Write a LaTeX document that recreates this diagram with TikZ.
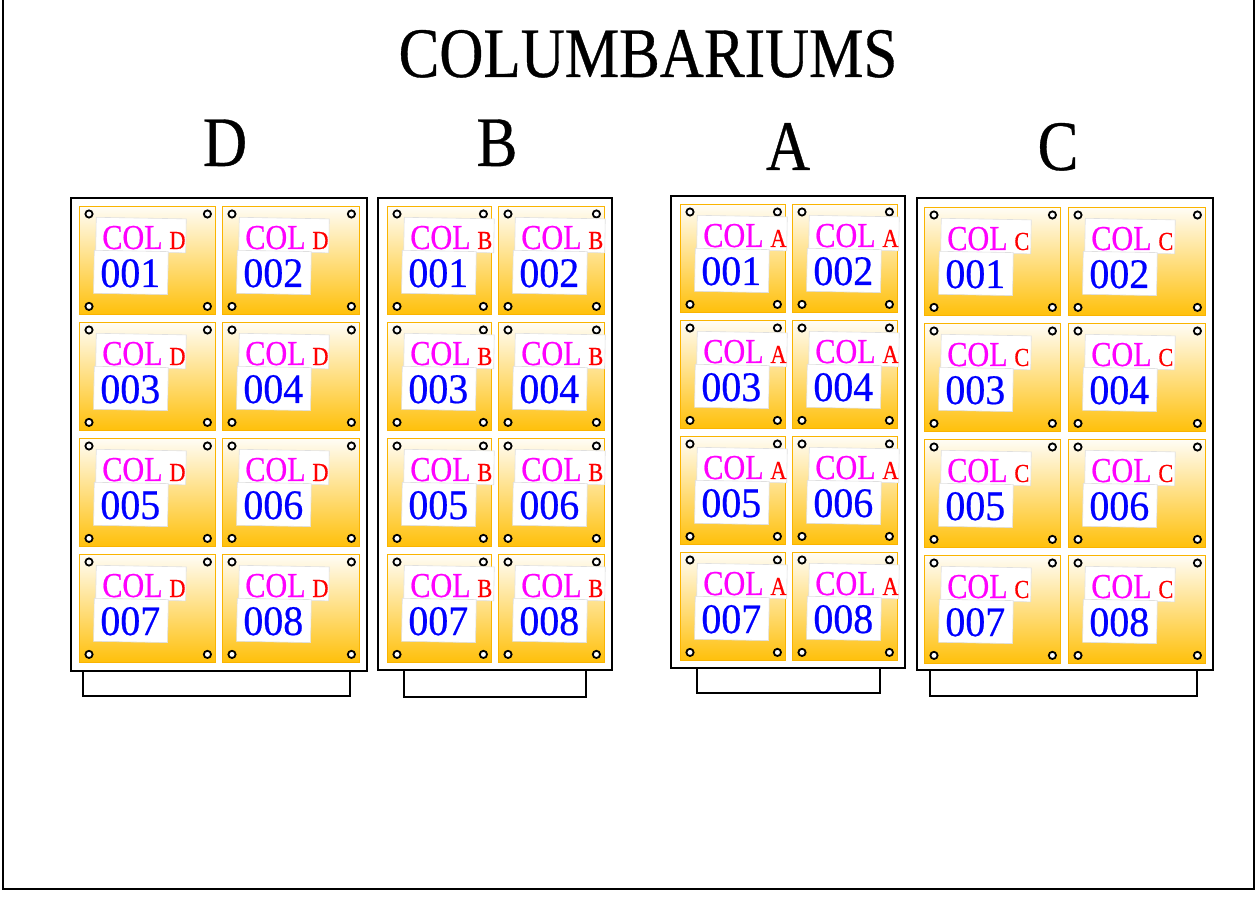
\documentclass[tikz,border=0pt]{standalone}
\usepackage{fontspec}
\usetikzlibrary{positioning,calc}
\newfontfamily\labelfont[FakeStretch=0.86,FakeBold=0.5]{Liberation Serif}
\newfontfamily\numberfont[FakeStretch=0.95,FakeBold=0.5]{Liberation Serif}
\definecolor{nichegold}{RGB}{255,192,10}
\definecolor{nicheedge}{RGB}{250,180,0}
\definecolor{colmagenta}{RGB}{255,0,255}
\definecolor{colred}{RGB}{255,0,0}
\definecolor{colblue}{RGB}{0,0,255}

% one niche: name, x, y, width, column letter, number
\newcommand{\niche}[6]{%
  \node[niche, minimum width=#4*0.5pt, anchor=north west] (#1) at (#2,#3) {};
  \foreach \corner/\dx/\dy in {north west/10/8, north east/-9/8, south west/10/-9, south east/-9/-9}
    \draw[screw] ($(#1.\corner)+(\dx,\dy)$) circle[radius=1.8pt];
  \node[patch, minimum width=90*0.5pt, minimum height=34*0.5pt, anchor=north west] at ($(#1.north west)+(17,11)$) {};
  \node[patch, minimum width=74*0.5pt, minimum height=43*0.5pt, anchor=north west] at ($(#1.north west)+(15,44)$) {};
  \node[coltext, anchor=base west] (#1-c) at ($(#1.north west)+(23,43)$) {COL};
  \node[lettext, anchor=base west] at ($(#1-c.base east)+(6,0)$) {#5};
  \node[numtext, anchor=base west] at ($(#1.north west)+(21,81)$) {#6};
}

\begin{document}
\begin{tikzpicture}[
        x=0.5pt, y=-0.5pt,
        niche/.style={rectangle, draw=nicheedge, line width=0.7pt, minimum height=108*0.5pt, inner sep=0pt,
          top color=nichegold!4!white, middle color=nichegold!70!white, bottom color=nichegold},
        screw/.style={draw=black, line width=0.9pt, fill=white},
        patch/.style={rectangle, fill=white, draw=gray!25, line width=0.3pt, inner sep=0pt, rotate=-1},
        coltext/.style={inner sep=0pt, text=colmagenta, font=\labelfont\fontsize{17.5}{20}\selectfont},
        lettext/.style={inner sep=0pt, text=colred, font=\labelfont\fontsize{13}{15}\selectfont},
        numtext/.style={inner sep=0pt, text=colblue, font=\numberfont\fontsize{21}{24}\selectfont},
        heading/.style={inner sep=0pt, anchor=base, font=\labelfont\fontsize{35.5}{40}\selectfont},
        cabinet/.style={draw=black, line width=1pt, fill=white}
    ]
        \useasboundingbox (0,0) rectangle (1258,897);

        % Page frame
        \draw[line width=1pt] (3,-4) rectangle (1254,889);

        % Titles
        \node[heading] (title) at (648,77) {COLUMBARIUMS};
        \node[heading] (head-D) at (225,166) {D};
        \node[heading] (head-B) at (497,166) {B};
        \node[heading] (head-A) at (788,170) {A};
        \node[heading] (head-C) at (1058,170) {C};

        % Cabinets and bases
        \draw[cabinet] (83,671) rectangle (350,696);
        \draw[cabinet] (71,198) rectangle (367,671);
        \draw[cabinet] (404,670) rectangle (586,697);
        \draw[cabinet] (378,198) rectangle (612,670);
        \draw[cabinet] (697,668) rectangle (880,693);
        \draw[cabinet] (671,196) rectangle (905,668);
        \draw[cabinet] (930,670) rectangle (1197,696);
        \draw[cabinet] (917,198) rectangle (1213,670);

        % Niches
        \foreach \cab/\xa/\wa/\xb/\wb/\ytop in {D/79/136/222/137/206, B/387/104/498/106/206,
                                               A/680/105/792/105/204, C/924/136/1068/137/207}
          \foreach \r in {0,1,2,3}
            \foreach \c in {0,1} {
              \pgfmathtruncatemacro\num{2*\r+\c+1}
              \pgfmathsetmacro\nx{\c==0 ? \xa : \xb}
              \pgfmathsetmacro\nw{\c==0 ? \wa : \wb}
              \pgfmathsetmacro\ny{\ytop+116*\r}
              \niche{\cab-\num}{\nx}{\ny}{\nw}{\cab}{00\num}
            }

    \end{tikzpicture}
\end{document}
